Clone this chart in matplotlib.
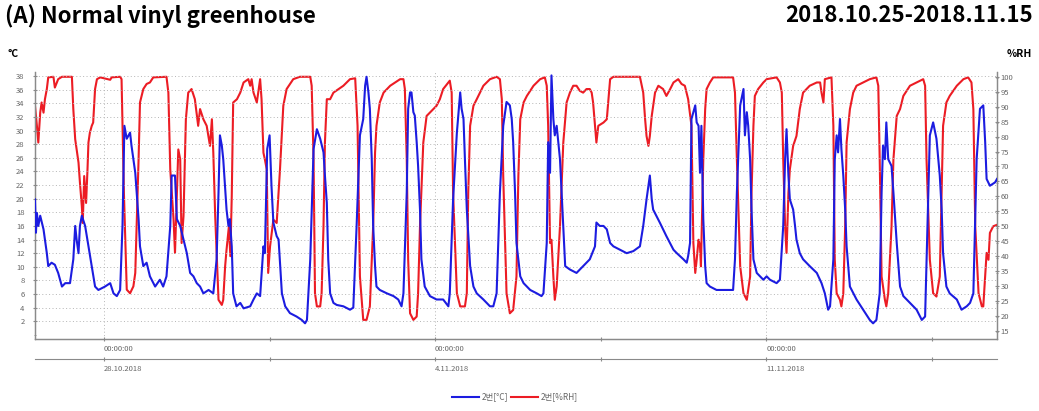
import matplotlib.pyplot as plt
from matplotlib.lines import Line2D

plt.rcParams['font.family'] = ['Noto Sans CJK KR', 'DejaVu Sans']

# time axis: days counted from 2018-10-26 00:00
temp_day = [
    0.54, 0.56, 0.58, 0.61, 0.65, 0.72, 0.79, 0.82, 0.89, 0.96, 1.03, 1.11, 1.18, 1.28,
    1.35, 1.39, 1.42, 1.46, 1.49, 1.53, 1.60, 1.67, 1.74, 1.81, 1.88, 2.02, 2.13, 2.20,
    2.27, 2.34, 2.39, 2.43, 2.48, 2.55, 2.58, 2.66, 2.69, 2.73, 2.76, 2.83, 2.90, 2.97,
    3.08, 3.18, 3.25, 3.32, 3.40, 3.43, 3.50, 3.54, 3.61, 3.68, 3.75, 3.82, 3.89, 3.96,
    4.03, 4.10, 4.21, 4.31, 4.38, 4.42, 4.45, 4.49, 4.52, 4.59, 4.63, 4.66, 4.70, 4.73,
    4.80, 4.88, 4.95, 5.09, 5.16, 5.23, 5.30, 5.37, 5.40, 5.45, 5.50, 5.54, 5.58, 5.65,
    5.69, 5.76, 5.83, 5.93, 6.07, 6.18, 6.25, 6.29, 6.36, 6.43, 6.50, 6.57, 6.64, 6.67,
    6.71, 6.74, 6.78, 6.85, 6.92, 7.06, 7.20, 7.27, 7.34, 7.41, 7.48, 7.52, 7.55, 7.59,
    7.62, 7.66, 7.69, 7.73, 7.76, 7.83, 7.98, 8.12, 8.22, 8.29, 8.33, 8.40, 8.43, 8.47,
    8.50, 8.54, 8.57, 8.61, 8.64, 8.68, 8.71, 8.78, 8.89, 9.03, 9.17, 9.28, 9.31, 9.38,
    9.46, 9.53, 9.56, 9.60, 9.63, 9.67, 9.74, 9.81, 9.88, 10.02, 10.16, 10.23, 10.30, 10.37,
    10.44, 10.51, 10.58, 10.62, 10.65, 10.69, 10.72, 10.80, 10.87, 11.01, 11.15, 11.25, 11.29, 11.36,
    11.39, 11.43, 11.46, 11.50, 11.53, 11.57, 11.64, 11.71, 11.75, 11.85, 11.99, 12.13, 12.27, 12.38,
    12.41, 12.48, 12.56, 12.63, 12.70, 12.77, 12.91, 13.05, 13.19, 13.33, 13.40, 13.47, 13.54, 13.58,
    13.61, 13.75, 13.89, 14.04, 14.11, 14.25, 14.32, 14.35, 14.39, 14.42, 14.46, 14.50, 14.53, 14.57,
    14.60, 14.63, 14.67, 14.71, 14.74, 14.81, 14.95, 15.09, 15.30, 15.34, 15.38, 15.45, 15.52, 15.55,
    15.59, 15.62, 15.66, 15.69, 15.73, 15.80, 15.94, 16.01, 16.08, 16.22, 16.29, 16.36, 16.40, 16.43,
    16.47, 16.50, 16.57, 16.61, 16.64, 16.71, 16.78, 16.92, 17.07, 17.17, 17.24, 17.31, 17.35, 17.42,
    17.45, 17.49, 17.52, 17.56, 17.59, 17.63, 17.67, 17.70, 17.77, 17.91, 18.05, 18.19, 18.26, 18.33,
    18.40, 18.44, 18.47, 18.51, 18.54, 18.58, 18.65, 18.69, 18.76, 18.83, 18.90, 19.04, 19.18, 19.29,
    19.36, 19.43, 19.46, 19.53, 19.60, 19.67, 19.71, 19.74, 19.81, 19.88, 20.03, 20.13, 20.24, 20.31,
    20.38, 20.45, 20.52, 20.59, 20.63, 20.66, 20.73, 20.84, 20.88,
]
temp_val = [
    19.9, 15.0, 17.9, 16.0, 17.5, 15.5, 12.0, 10.1, 10.6, 10.3, 9.1, 7.1, 7.6, 7.6,
    11.1, 16.0, 14.0, 12.0, 16.0, 17.5, 16.0, 13.0, 10.1, 7.1, 6.6, 7.1, 7.6, 6.1,
    5.7, 6.6, 16.0, 30.7, 28.8, 29.7, 27.8, 23.8, 20.9, 17.0, 13.0, 10.1, 10.6, 8.6,
    7.1, 8.1, 7.1, 8.6, 16.0, 23.4, 23.4, 17.0, 16.0, 14.0, 12.0, 9.1, 8.6, 7.6,
    7.1, 6.1, 6.6, 6.1, 11.1, 20.9, 29.3, 27.8, 25.8, 18.4, 16.0, 17.0, 13.0, 6.1,
    4.2, 4.7, 3.9, 4.2, 5.2, 6.1, 5.7, 13.0, 12.0, 27.3, 29.3, 21.9, 16.5, 14.5,
    14.0, 6.1, 4.2, 3.2, 2.7, 2.2, 1.7, 2.2, 11.1, 27.3, 30.2, 28.8, 26.8, 23.4,
    19.4, 11.1, 6.1, 4.7, 4.4, 4.2, 3.7, 4.0, 16.0, 29.3, 31.7, 36.6, 37.9, 35.6,
    33.2, 25.8, 16.0, 10.1, 7.1, 6.6, 6.1, 5.7, 5.2, 4.2, 6.1, 20.9, 33.2, 35.6,
    35.6, 32.7, 32.2, 28.3, 24.8, 18.4, 11.1, 7.1, 5.7, 5.2, 5.2, 4.2, 6.1, 19.9,
    29.7, 35.6, 33.2, 31.7, 25.8, 18.4, 10.1, 7.1, 6.1, 5.2, 4.2, 4.2, 6.1, 20.9,
    30.7, 34.2, 33.7, 31.7, 28.3, 20.9, 13.5, 8.6, 7.6, 6.6, 6.1, 5.7, 6.1, 13.5,
    28.3, 23.8, 38.1, 31.7, 29.3, 30.7, 25.8, 16.0, 10.1, 9.6, 9.1, 10.1, 11.1, 13.0,
    16.5, 16.0, 16.0, 15.5, 13.5, 13.0, 12.5, 12.0, 12.3, 13.0, 16.0, 19.9, 23.4, 19.9,
    18.4, 16.5, 14.5, 12.5, 12.0, 11.1, 10.6, 11.6, 13.5, 31.7, 32.7, 33.7, 31.2, 30.7,
    23.8, 30.7, 17.0, 10.1, 7.6, 7.1, 6.6, 6.6, 6.6, 11.1, 20.9, 33.7, 36.1, 29.3,
    32.7, 30.7, 25.8, 18.4, 11.1, 9.1, 8.1, 8.6, 8.1, 7.6, 8.1, 16.0, 25.8, 30.2,
    23.4, 19.9, 18.4, 16.0, 14.0, 12.0, 11.1, 10.1, 9.1, 7.6, 6.1, 3.7, 4.2, 11.1,
    25.8, 29.3, 26.8, 31.7, 27.3, 23.4, 18.4, 13.0, 7.1, 5.2, 3.7, 2.2, 1.7, 2.2,
    6.1, 20.9, 27.8, 25.8, 31.2, 25.8, 24.8, 20.9, 13.5, 7.1, 5.7, 4.7, 3.7, 2.2,
    2.7, 20.9, 29.3, 31.2, 28.8, 23.4, 18.4, 12.0, 7.1, 6.1, 5.2, 3.7, 4.2, 4.7,
    6.1, 25.8, 33.2, 33.7, 28.3, 22.9, 21.9, 22.4, 22.9,
]

rh_day = [
    0.54, 0.58, 0.61, 0.65, 0.68, 0.72, 0.75, 0.79, 0.82, 0.93, 0.96, 1.03, 1.11, 1.32,
    1.35, 1.39, 1.46, 1.49, 1.53, 1.55, 1.58, 1.62, 1.65, 1.67, 1.70, 1.74, 1.77, 1.81,
    1.85, 1.92, 2.13, 2.16, 2.34, 2.37, 2.42, 2.48, 2.55, 2.62, 2.66, 2.73, 2.76, 2.83,
    2.90, 2.97, 3.04, 3.32, 3.36, 3.40, 3.47, 3.50, 3.54, 3.57, 3.61, 3.64, 3.68, 3.73,
    3.78, 3.85, 3.92, 3.99, 4.03, 4.10, 4.17, 4.24, 4.28, 4.31, 4.35, 4.42, 4.49, 4.52,
    4.56, 4.59, 4.64, 4.67, 4.70, 4.73, 4.81, 4.88, 4.95, 5.05, 5.09, 5.12, 5.16, 5.23,
    5.30, 5.33, 5.37, 5.40, 5.44, 5.47, 5.51, 5.58, 5.65, 5.72, 5.79, 5.86, 6.00, 6.14,
    6.36, 6.39, 6.43, 6.46, 6.50, 6.57, 6.60, 6.64, 6.67, 6.71, 6.78, 6.85, 7.06, 7.20,
    7.31, 7.36, 7.41, 7.48, 7.55, 7.62, 7.69, 7.73, 7.76, 7.83, 7.91, 8.05, 8.26, 8.33,
    8.36, 8.40, 8.43, 8.47, 8.54, 8.61, 8.64, 8.68, 8.75, 8.82, 8.96, 9.03, 9.10, 9.17,
    9.28, 9.31, 9.35, 9.38, 9.46, 9.53, 9.63, 9.67, 9.70, 9.74, 9.81, 9.88, 10.02, 10.16,
    10.30, 10.37, 10.41, 10.44, 10.51, 10.58, 10.65, 10.72, 10.76, 10.80, 10.87, 10.94, 11.08, 11.22,
    11.32, 11.36, 11.39, 11.43, 11.46, 11.50, 11.53, 11.57, 11.64, 11.71, 11.78, 11.85, 11.92, 11.99,
    12.06, 12.13, 12.20, 12.27, 12.31, 12.34, 12.38, 12.41, 12.45, 12.56, 12.63, 12.70, 12.77, 13.33,
    13.40, 13.44, 13.47, 13.51, 13.54, 13.58, 13.65, 13.72, 13.82, 13.89, 13.97, 14.04, 14.14, 14.21,
    14.28, 14.35, 14.42, 14.46, 14.50, 14.53, 14.57, 14.60, 14.62, 14.67, 14.71, 14.74, 14.81, 14.88,
    15.30, 15.34, 15.38, 15.45, 15.52, 15.59, 15.66, 15.69, 15.73, 15.76, 15.83, 15.94, 16.01, 16.22,
    16.29, 16.33, 16.36, 16.40, 16.43, 16.47, 16.50, 16.57, 16.64, 16.71, 16.78, 16.92, 17.07, 17.14,
    17.17, 17.21, 17.24, 17.38, 17.42, 17.45, 17.49, 17.56, 17.59, 17.63, 17.67, 17.70, 17.77, 17.84,
    17.91, 18.05, 18.19, 18.33, 18.37, 18.40, 18.44, 18.51, 18.54, 18.58, 18.65, 18.69, 18.76, 18.83,
    18.90, 19.04, 19.18, 19.32, 19.36, 19.39, 19.46, 19.53, 19.60, 19.67, 19.71, 19.74, 19.81, 19.88,
    20.03, 20.17, 20.27, 20.34, 20.38, 20.42, 20.49, 20.56, 20.59, 20.63, 20.66, 20.70, 20.73, 20.80,
    20.88,
]
rh_val = [
    90.3, 83.6, 78.0, 88.0, 91.4, 88.0, 92.5, 95.9, 99.8, 100.0, 96.4, 99.2, 100.0, 100.0,
    89.2, 79.1, 71.3, 64.6, 56.7, 51.1, 66.8, 57.8, 69.0, 78.0, 81.3, 83.6, 84.7, 95.9,
    99.2, 99.8, 99.0, 99.8, 100.0, 99.2, 61.2, 28.8, 27.6, 29.9, 34.4, 72.4, 91.4, 95.9,
    97.6, 98.1, 99.8, 100.0, 94.7, 69.0, 52.2, 41.1, 61.2, 75.7, 72.4, 44.4, 53.4, 85.8,
    94.7, 95.9, 92.5, 83.6, 89.2, 85.8, 83.6, 76.9, 85.8, 74.6, 53.4, 25.4, 23.7, 25.4,
    36.6, 42.2, 50.0, 40.0, 60.0, 91.4, 92.5, 94.7, 98.1, 99.2, 97.0, 99.2, 94.7, 91.4,
    99.2, 92.5, 74.6, 72.4, 69.0, 34.4, 43.3, 52.2, 51.1, 69.0, 90.3, 95.9, 99.2, 100.0,
    100.0, 97.0, 72.4, 27.6, 23.2, 23.2, 27.6, 50.0, 78.0, 92.5, 92.5, 94.7, 97.0, 99.2,
    99.5, 83.6, 33.2, 18.7, 18.7, 23.2, 50.0, 74.6, 83.6, 91.4, 94.7, 97.0, 99.2, 99.2,
    95.9, 72.4, 38.8, 20.9, 18.7, 19.8, 27.6, 50.0, 78.0, 86.9, 89.2, 90.3, 92.5, 95.9,
    98.1, 98.7, 94.7, 61.2, 27.6, 23.2, 23.2, 27.6, 61.2, 83.6, 90.3, 92.5, 97.0, 99.2,
    100.0, 99.2, 92.5, 66.8, 27.6, 20.9, 22.0, 33.2, 66.8, 85.8, 91.4, 93.6, 97.0, 99.2,
    99.8, 97.0, 83.6, 44.4, 45.5, 33.2, 25.4, 29.9, 50.0, 78.0, 91.4, 94.7, 97.0, 97.0,
    95.3, 94.7, 95.9, 95.9, 94.7, 91.4, 83.6, 78.0, 83.6, 84.7, 85.8, 99.2, 100.0, 100.0,
    94.7, 85.8, 80.2, 76.9, 80.2, 86.9, 94.7, 97.0, 95.9, 93.6, 95.9, 98.1, 99.2, 97.6,
    97.0, 92.5, 83.6, 44.4, 34.4, 38.8, 45.5, 43.3, 36.6, 72.4, 89.2, 95.9, 98.1, 99.8,
    99.8, 94.7, 72.4, 36.6, 27.6, 25.4, 33.2, 61.2, 83.6, 93.6, 95.9, 98.1, 99.2, 99.8,
    98.1, 94.7, 72.4, 50.0, 41.1, 61.2, 69.0, 76.9, 80.2, 89.2, 94.7, 97.0, 98.1, 98.1,
    94.7, 91.4, 99.2, 99.8, 83.6, 38.8, 27.6, 25.4, 23.2, 27.6, 50.0, 78.0, 89.2, 94.7,
    97.0, 98.1, 99.2, 99.8, 97.0, 72.4, 33.2, 25.4, 23.2, 27.6, 50.0, 72.4, 86.9, 89.2,
    93.6, 97.0, 98.1, 99.2, 97.0, 72.4, 38.8, 27.6, 26.5, 33.2, 61.2, 83.6, 91.4, 93.6,
    97.0, 99.2, 99.8, 98.1, 89.2, 50.0, 27.6, 23.2, 23.2, 33.2, 41.1, 38.8, 47.8, 50.0,
    50.5,
]

week_days = [2, 9, 16]
mid_days = [5.5, 12.5, 19.5]
time_labels = ['00:00:00', '00:00:00', '00:00:00']
date_labels = ['28.10.2018', '4.11.2018', '11.11.2018']
temp_ticks = list(range(2, 39, 2))
rh_ticks = list(range(15, 101, 5))

BLUE = '#1c1ce0'
RED = '#ec1c24'
AXC = '#8a8a8a'
TXC = '#666666'

fig = plt.figure(figsize=(10.39, 4.11), dpi=100)
ax = fig.add_axes([35 / 1039, 72 / 411, 962 / 1039, 267 / 411])
ax2 = ax.twinx()

ax.plot(temp_day, temp_val, color=BLUE, lw=1.5, zorder=3)
ax2.plot(rh_day, rh_val, color=RED, lw=1.5)
ax.set_zorder(ax2.get_zorder() + 1)
ax.patch.set_visible(False)

ax.set_xlim(0.54, 20.88)
ax.set_ylim(-0.6, 38.6)
ax2.set_ylim(12.3, 101.6)

# left axis
ax.set_yticks(temp_ticks)
ax.set_yticks([v + 1 for v in range(-1, 38, 2)], minor=True)
ax.tick_params(axis='y', which='major', labelsize=5.5, labelcolor=TXC, color=AXC,
               length=3, width=0.8, direction='inout', pad=6)
ax.tick_params(axis='y', which='minor', color=AXC, length=2, width=0.6, direction='inout')
ax.grid(axis='y', which='major', ls=(0, (1, 2.5)), color='#b5b5b5', lw=0.7)

# right axis
ax2.set_yticks(rh_ticks)
ax2.set_yticks([v + 2.5 for v in range(12, 100, 5)], minor=True)
ax2.tick_params(axis='y', which='major', labelsize=5.5, labelcolor=TXC, color=AXC,
                length=3, width=0.8, direction='inout', pad=1)
ax2.tick_params(axis='y', which='minor', color=AXC, length=2, width=0.6, direction='inout')

# first time row
ax.set_xticks(week_days)
ax.set_xticklabels(time_labels)
ax.set_xticks(mid_days, minor=True)
ax.tick_params(axis='x', which='both', labelsize=5.5, labelcolor=TXC, color=AXC,
               length=3, width=0.8, direction='inout', pad=3)
for lbl in ax.get_xticklabels():
    lbl.set_ha('left')
ax.grid(axis='x', which='major', ls=(0, (1, 2.5)), color='#b5b5b5', lw=0.7)

# second row with the calendar dates
sec = ax.secondary_xaxis(-0.075)
sec.set_xticks(week_days)
sec.set_xticklabels(date_labels)
sec.set_xticks(mid_days, minor=True)
sec.tick_params(axis='x', which='both', labelsize=5.5, labelcolor=TXC, color=AXC,
                length=3, width=0.8, direction='inout', pad=3)
for lbl in sec.get_xticklabels():
    lbl.set_ha('left')
sec.spines['bottom'].set_color(AXC)

for a in (ax, ax2):
    a.spines['top'].set_visible(False)
    for s in ('left', 'right', 'bottom'):
        a.spines[s].set_color(AXC)
        a.spines[s].set_linewidth(0.9)

fig.text(5 / 1039, 1 - 16 / 411, '(A) Normal vinyl greenhouse', fontsize=16,
         fontweight='bold', va='center', ha='left')
fig.text(1033 / 1039, 1 - 16 / 411, '2018.10.25-2018.11.15', fontsize=16,
         fontweight='bold', va='center', ha='right')
fig.text(8 / 1039, 1 - 54 / 411, '°C', fontsize=7.5, fontweight='bold', va='center')
fig.text(1032 / 1039, 1 - 54 / 411, '%RH', fontsize=7.5, fontweight='bold', va='center', ha='right')

handles = [Line2D([], [], color=BLUE, lw=1.5), Line2D([], [], color=RED, lw=1.5)]
fig.legend(handles, ['2번[°C]', '2번[%RH]'], loc='center',
           bbox_to_anchor=(515 / 1039, 1 - 397 / 411), ncol=2, frameon=False,
           fontsize=6, handlelength=3.2, handletextpad=0.3, columnspacing=0.4,
           labelcolor=TXC)

fig.savefig('out.png', dpi=100)
